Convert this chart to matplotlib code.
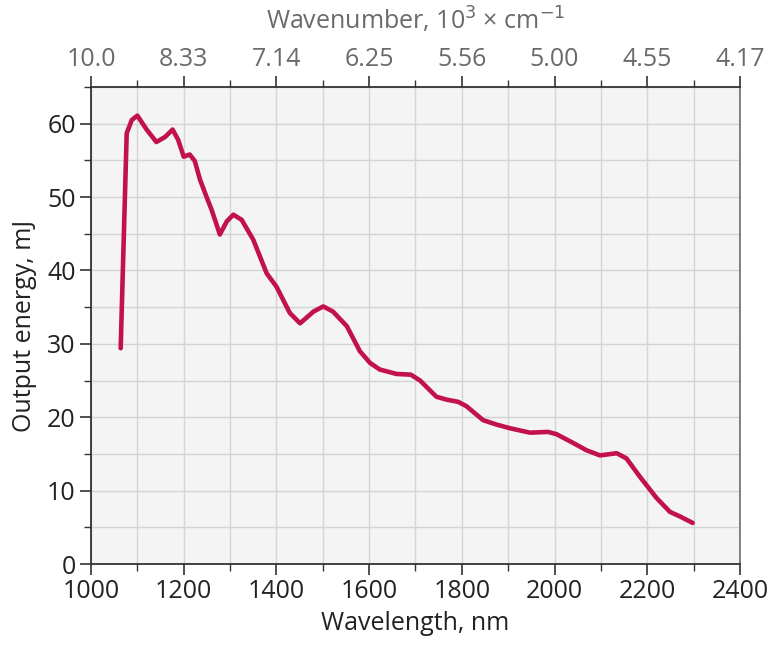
import numpy as np
import matplotlib.pyplot as plt
from matplotlib.ticker import MultipleLocator

plt.rcParams['font.family'] = ['Open Sans', 'DejaVu Sans']

# wavelength (nm) and output energy (mJ)
wavelength = [1064, 1077, 1088, 1100, 1120, 1141, 1160, 1176, 1188, 1200, 1213,
              1224, 1235, 1250, 1260, 1278, 1293, 1307, 1325, 1350, 1379, 1400,
              1429, 1451, 1480, 1501, 1522, 1552, 1580, 1602, 1623, 1659, 1690,
              1710, 1745, 1767, 1792, 1810, 1846, 1875, 1904, 1947, 1986, 2004,
              2040, 2069, 2098, 2134, 2155, 2184, 2220, 2249, 2270, 2298]
energy = [29.4, 58.7, 60.5, 61.1, 59.2, 57.5, 58.2, 59.2, 57.8, 55.5, 55.8,
          54.9, 52.4, 49.9, 48.3, 44.9, 46.7, 47.6, 46.9, 44.2, 39.6, 37.8,
          34.2, 32.8, 34.4, 35.1, 34.4, 32.4, 29.0, 27.4, 26.5, 25.9, 25.8,
          25.0, 22.8, 22.4, 22.1, 21.5, 19.6, 19.0, 18.5, 17.9, 18.0, 17.7,
          16.5, 15.5, 14.8, 15.1, 14.4, 11.9, 9.0, 7.1, 6.5, 5.6]

top_ticks = [1000, 1200, 1400, 1600, 1800, 2000, 2200, 2400]
top_labels = ['{:#.3g}'.format(1e4 / t) for t in top_ticks]

fs = 18
grey = '#6a6a6a'
dark = '#333333'

fig = plt.figure(figsize=(7.68, 6.56), dpi=100)
ax = fig.add_axes([0.1185, 0.1402, 0.845, 0.7272])
ax.set_facecolor('#f4f4f4')

ax.plot(wavelength, energy, color='#c2114f', lw=3.3, solid_capstyle='round',
        solid_joinstyle='round', zorder=3)

ax.set_xlim(1000, 2400)
ax.set_ylim(0, 65)
ax.xaxis.set_major_locator(MultipleLocator(200))
ax.xaxis.set_minor_locator(MultipleLocator(100))
ax.yaxis.set_major_locator(MultipleLocator(10))
ax.yaxis.set_minor_locator(MultipleLocator(5))
ax.grid(which='both', color='#d4d4d4', lw=1.0)
ax.set_axisbelow(True)

ax.tick_params(which='major', direction='out', length=8, width=1.2,
               color=dark, labelsize=fs, labelcolor='#222222', pad=3)
ax.tick_params(which='minor', direction='out', length=5, width=1.0, color=dark)

for s in ['left', 'bottom', 'top']:
    ax.spines[s].set_color(dark)
    ax.spines[s].set_linewidth(1.3)
ax.spines['right'].set_color('#777777')
ax.spines['right'].set_linewidth(1.3)

ax.set_xlabel('Wavelength, nm', fontsize=fs, color='#222222', labelpad=5)
ax.set_ylabel('Output energy, mJ', fontsize=fs, color='#222222', labelpad=7)

top = ax.twiny()
top.set_xlim(ax.get_xlim())
top.set_xticks(top_ticks)
top.set_xticklabels(top_labels)
top.xaxis.set_minor_locator(MultipleLocator(100))
top.tick_params(which='major', direction='out', length=8, width=1.2,
                color=dark, labelsize=fs, labelcolor=grey, pad=3)
top.tick_params(which='minor', direction='out', length=5, width=1.0, color=dark)
for s in top.spines.values():
    s.set_visible(False)
top.set_xlabel('Wavenumber, 10$^3$ × cm$^{-1}$', fontsize=fs, color=grey,
               labelpad=12)

fig.savefig('out.png', dpi=100)
